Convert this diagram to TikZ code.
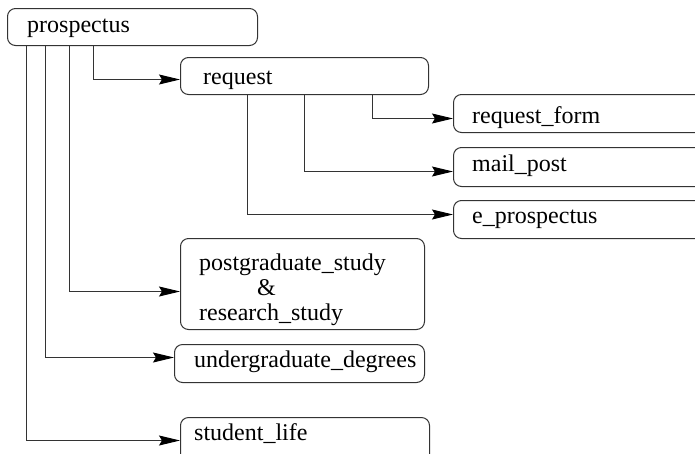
\documentclass[tikz,border=0pt]{standalone}
\usepackage{fontspec}
\setmainfont{Liberation Serif}
\usetikzlibrary{arrows.meta}
\begin{document}
\begin{tikzpicture}[x=1pt,y=-1pt,
  ink/.style={draw=black!80, line width=1pt},
  box/.style={ink, rounded corners=8pt, inner sep=0pt, anchor=north west},
  lbl/.style={anchor=base west, inner sep=0pt, font=\fontsize{24}{25}\selectfont},
  link/.style={ink, -{Stealth[length=21pt,width=10pt,inset=3pt,color=black]}}]
\useasboundingbox (0,0) rectangle (695,453);
\clip (0,0) rectangle (695,453);

% boxes
\node[box, minimum width=250pt, minimum height=37pt] (pros)   at (7,8)     {};
\node[box, minimum width=248pt, minimum height=37pt] (req)    at (180,57)  {};
\node[box, minimum width=300pt, minimum height=38pt] (rform)  at (453,94)  {};
\node[box, minimum width=300pt, minimum height=39pt] (mail)   at (453,147) {};
\node[box, minimum width=300pt, minimum height=38pt] (eprosp) at (453,200) {};
\node[box, minimum width=244pt, minimum height=91pt] (pg)     at (180,238) {};
\node[box, minimum width=250pt, minimum height=38pt] (ug)     at (174,344) {};
\node[box, minimum width=249pt, minimum height=46pt] (sl)     at (180,417) {};

% labels
\node[lbl] (tpros)   at (27,32)   {prospectus};
\node[lbl] (treq)    at (203,84)  {request};
\node[lbl] (trform)  at (472,123) {request\_form};
\node[lbl] (tmail)   at (472,171) {mail\_post};
\node[lbl] (teprosp) at (472,223) {e\_prospectus};
\node[lbl] (tpg1)    at (199,270) {postgraduate\_study};
\node[lbl] (tpg2)    at (257,295) {\&};
\node[lbl] (tpg3)    at (199,320) {research\_study};
\node[lbl] (tug)     at (194,367) {undergraduate\_degrees};
\node[lbl] (tsl)     at (194,440) {student\_life};

% connectors from prospectus
\draw[link] ([xshift=86pt]pros.south west) |- ([yshift=-3.5pt]req.west);
\draw[link] ([xshift=62pt]pros.south west) |- ([yshift=-7.5pt]pg.west);
\draw[link] ([xshift=38pt]pros.south west) |- ([yshift=6pt]ug.west);
\draw[link] ([xshift=19pt]pros.south west) |- (sl.west);

% connectors from request
\draw[link] ([xshift=192pt]req.south west) |- ([yshift=-5pt]rform.west);
\draw[link] ([xshift=124pt]req.south west) |- ([yshift=-4.5pt]mail.west);
\draw[link] ([xshift=67pt]req.south west)  |- ([yshift=5pt]eprosp.west);
\end{tikzpicture}
\end{document}
